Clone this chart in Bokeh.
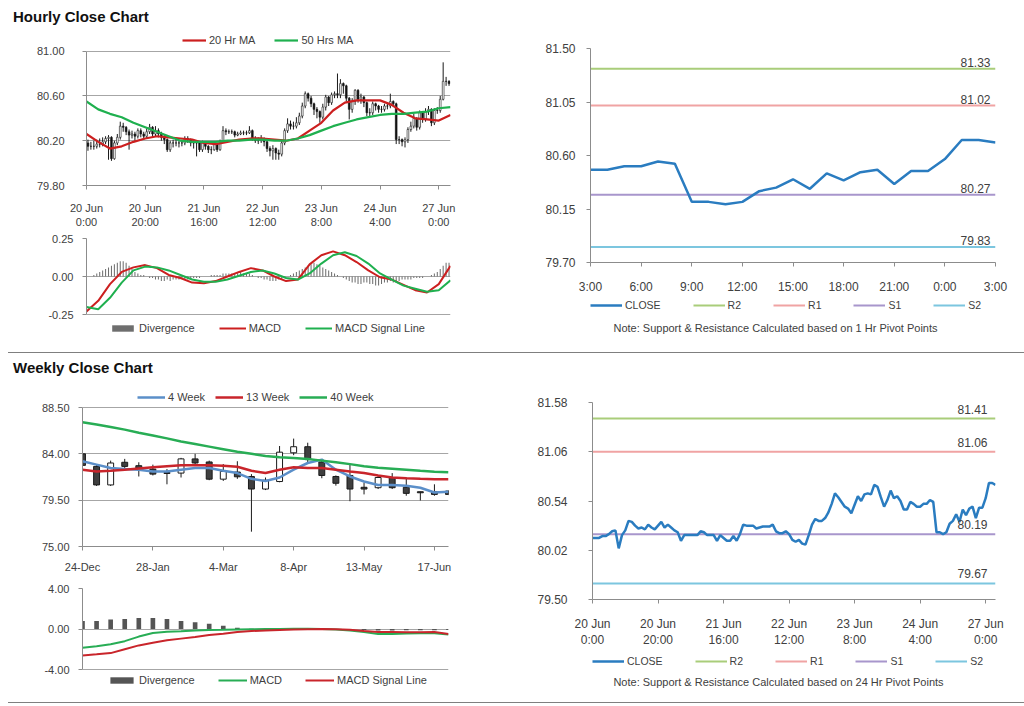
from bokeh.plotting import figure
from bokeh.models import (ColumnDataSource, FixedTicker, NumeralTickFormatter, Legend,
                          LegendItem, Label, Div, Range1d)
from bokeh.layouts import column, row
from bokeh.embed import file_html
from bokeh.resources import INLINE
from bokeh.core.properties import value

FONT = "Liberation Sans"
TXT = "#404040"
AXC = "#8c8c8c"
GRIDC = "#a6a6a6"

# ------------------------------------------------------------------ data: hourly
h_tick_labels = ["20 Jun\n0:00", "20 Jun\n20:00", "21 Jun\n16:00", "22 Jun\n12:00",
                 "23 Jun\n8:00", "24 Jun\n4:00", "27 Jun\n0:00"]
h_open = [80.18, 80.15, 80.15, 80.15, 80.17, 80.17, 80.19, 80.22, 80.23, 80.04,
          80.18, 80.23, 80.33, 80.32, 80.28, 80.25, 80.26, 80.24, 80.29, 80.26,
          80.24, 80.28, 80.32, 80.26, 80.29, 80.26, 80.23, 80.21, 80.12, 80.18,
          80.18, 80.18, 80.18, 80.18, 80.22, 80.21, 80.18, 80.18, 80.18, 80.12,
          80.18, 80.15, 80.12, 80.12, 80.17, 80.12, 80.19, 80.29, 80.28, 80.28,
          80.28, 80.25, 80.26, 80.27, 80.27, 80.27, 80.29, 80.22, 80.20, 80.20,
          80.22, 80.19, 80.13, 80.11, 80.13, 80.09, 80.08, 80.18, 80.29, 80.35,
          80.33, 80.33, 80.36, 80.42, 80.51, 80.62, 80.58, 80.53, 80.48, 80.46,
          80.41, 80.50, 80.59, 80.54, 80.61, 80.62, 80.61, 80.71, 80.69, 80.58,
          80.48, 80.55, 80.65, 80.57, 80.59, 80.54, 80.45, 80.45, 80.53, 80.51,
          80.48, 80.48, 80.51, 80.51, 80.55, 80.53, 80.21, 80.21, 80.19, 80.21,
          80.30, 80.33, 80.40, 80.32, 80.45, 80.39, 80.46, 80.48, 80.36, 80.47,
          80.47, 80.57, 80.73, 80.73]
h_high = [80.21, 80.19, 80.20, 80.21, 80.22, 80.23, 80.24, 80.25, 80.24, 80.20,
          80.26, 80.37, 80.36, 80.33, 80.30, 80.29, 80.28, 80.31, 80.31, 80.28,
          80.31, 80.35, 80.33, 80.33, 80.31, 80.28, 80.25, 80.22, 80.20, 80.21,
          80.22, 80.21, 80.20, 80.24, 80.24, 80.22, 80.21, 80.20, 80.19, 80.20,
          80.19, 80.16, 80.15, 80.19, 80.18, 80.21, 80.33, 80.31, 80.30, 80.30,
          80.29, 80.28, 80.29, 80.29, 80.29, 80.33, 80.30, 80.24, 80.23, 80.25,
          80.23, 80.20, 80.15, 80.16, 80.14, 80.12, 80.21, 80.31, 80.40, 80.38,
          80.37, 80.41, 80.45, 80.54, 80.64, 80.63, 80.60, 80.54, 80.50, 80.47,
          80.53, 80.61, 80.60, 80.63, 80.64, 80.80, 80.75, 80.72, 80.70, 80.59,
          80.58, 80.66, 80.66, 80.62, 80.60, 80.55, 80.49, 80.55, 80.54, 80.52,
          80.51, 80.53, 80.54, 80.62, 80.56, 80.54, 80.24, 80.22, 80.23, 80.32,
          80.37, 80.44, 80.41, 80.47, 80.46, 80.49, 80.51, 80.49, 80.49, 80.50,
          80.60, 80.90, 80.77, 80.74]
h_low = [80.11, 80.12, 80.12, 80.13, 80.14, 80.15, 80.17, 80.03, 80.02, 80.03,
         80.16, 80.21, 80.28, 80.25, 80.12, 80.22, 80.20, 80.22, 80.23, 80.21,
         80.22, 80.26, 80.23, 80.24, 80.23, 80.20, 80.17, 80.10, 80.10, 80.14,
         80.15, 80.14, 80.15, 80.16, 80.18, 80.15, 80.13, 80.06, 80.10, 80.10,
         80.12, 80.09, 80.08, 80.11, 80.10, 80.11, 80.18, 80.25, 80.26, 80.26,
         80.23, 80.24, 80.25, 80.25, 80.25, 80.26, 80.20, 80.18, 80.17, 80.18,
         80.15, 80.10, 80.06, 80.03, 80.03, 80.03, 80.06, 80.16, 80.27, 80.30,
         80.30, 80.31, 80.34, 80.40, 80.49, 80.55, 80.50, 80.43, 80.40, 80.36,
         80.39, 80.47, 80.51, 80.52, 80.58, 80.58, 80.58, 80.62, 80.55, 80.39,
         80.45, 80.52, 80.54, 80.53, 80.50, 80.42, 80.42, 80.43, 80.47, 80.45,
         80.45, 80.46, 80.48, 80.49, 80.50, 80.17, 80.17, 80.15, 80.14, 80.18,
         80.28, 80.31, 80.29, 80.30, 80.36, 80.37, 80.43, 80.33, 80.34, 80.44,
         80.45, 80.56, 80.69, 80.69]
h_close = [80.15, 80.15, 80.15, 80.17, 80.17, 80.19, 80.22, 80.23, 80.04, 80.18,
           80.23, 80.33, 80.32, 80.28, 80.25, 80.26, 80.24, 80.29, 80.26, 80.24,
           80.28, 80.32, 80.26, 80.29, 80.26, 80.23, 80.21, 80.12, 80.18, 80.18,
           80.18, 80.18, 80.18, 80.22, 80.21, 80.18, 80.18, 80.18, 80.12, 80.18,
           80.15, 80.12, 80.12, 80.17, 80.12, 80.19, 80.29, 80.28, 80.28, 80.28,
           80.25, 80.26, 80.27, 80.27, 80.27, 80.29, 80.22, 80.20, 80.20, 80.22,
           80.19, 80.13, 80.11, 80.13, 80.09, 80.08, 80.18, 80.29, 80.35, 80.33,
           80.33, 80.36, 80.42, 80.51, 80.62, 80.58, 80.53, 80.48, 80.46, 80.41,
           80.50, 80.59, 80.54, 80.61, 80.62, 80.61, 80.71, 80.69, 80.58, 80.48,
           80.55, 80.65, 80.57, 80.59, 80.54, 80.45, 80.45, 80.53, 80.51, 80.48,
           80.48, 80.51, 80.51, 80.55, 80.53, 80.21, 80.21, 80.19, 80.21, 80.30,
           80.33, 80.40, 80.32, 80.45, 80.39, 80.46, 80.48, 80.36, 80.47, 80.47,
           80.57, 80.73, 80.73, 80.71]
# moving averages / MACD read every 4 hourly bars
h_ma20 = [80.26, 80.19, 80.13, 80.15, 80.19, 80.22, 80.24, 80.23, 80.22, 80.21, 80.18,
          80.17, 80.19, 80.21, 80.22, 80.22, 80.21, 80.20, 80.22, 80.29, 80.36, 80.47,
          80.54, 80.56, 80.56, 80.56, 80.52, 80.45, 80.40, 80.39, 80.38, 80.43]
h_ma50 = [80.55, 80.48, 80.44, 80.41, 80.36, 80.32, 80.28, 80.24, 80.20, 80.19, 80.19,
          80.19, 80.20, 80.20, 80.21, 80.21, 80.20, 80.20, 80.22, 80.25, 80.29, 80.33,
          80.36, 80.39, 80.41, 80.43, 80.44, 80.44, 80.45, 80.46, 80.49, 80.50]
h_macd = [-0.23, -0.16, -0.05, 0.03, 0.06, 0.075, 0.055, 0.01, -0.01, -0.04, -0.045,
          -0.03, 0.00, 0.03, 0.055, 0.04, 0.00, -0.03, -0.02, 0.08, 0.14, 0.165,
          0.14, 0.095, 0.04, -0.005, -0.02, -0.055, -0.09, -0.105, -0.05, 0.07]
h_signal = [-0.20, -0.215, -0.14, -0.04, 0.04, 0.065, 0.06, 0.04, 0.01, -0.02, -0.035,
            -0.035, -0.02, 0.005, 0.03, 0.04, 0.02, -0.01, -0.02, 0.02, 0.085, 0.14,
            0.16, 0.135, 0.085, 0.02, -0.02, -0.06, -0.08, -0.10, -0.09, -0.025]
h_div = [0.00, 0.00, 0.01, 0.02, 0.03, 0.04, 0.05, 0.06, 0.07, 0.08,
         0.09, 0.10, 0.10, 0.09, 0.07, 0.05, 0.03, 0.02, 0.01, 0.01,
         0.00, -0.01, -0.01, -0.02, -0.02, -0.03, -0.03, -0.02, -0.03, -0.02,
         -0.02, -0.02, -0.01, -0.02, -0.02, -0.01, -0.01, -0.01, -0.01, 0.00,
         0.00, 0.00, 0.01, 0.01, 0.01, 0.01, 0.02, 0.02, 0.02, 0.02,
         0.02, 0.03, 0.03, 0.02, 0.02, 0.02, 0.01, 0.00, -0.01, -0.01,
         -0.02, -0.02, -0.03, -0.03, -0.03, -0.02, -0.02, -0.01, 0.00, 0.01,
         0.02, 0.03, 0.04, 0.05, 0.06, 0.07, 0.08, 0.09, 0.08, 0.07,
         0.06, 0.05, 0.04, 0.03, 0.02, 0.01, 0.00, -0.01, -0.02, -0.03,
         -0.04, -0.04, -0.05, -0.05, -0.04, -0.04, -0.05, -0.05, -0.06, -0.06,
         -0.05, -0.04, -0.04, -0.03, -0.04, -0.03, -0.03, -0.02, -0.02, -0.02,
         -0.02, -0.01, -0.01, -0.01, -0.01, 0.00, 0.00, 0.01, 0.02, 0.03,
         0.05, 0.07, 0.09, 0.09]
h_pivot_names = ["R2", "R1", "S1", "S2"]
h_pivots = [81.33, 81.02, 80.27, 79.83]
h_last_labels = ["3:00", "6:00", "9:00", "12:00", "15:00", "18:00", "21:00", "0:00", "3:00"]

# ------------------------------------------------------------------ data: weekly
w_tick_labels = ["24-Dec", "28-Jan", "4-Mar", "8-Apr", "13-May", "17-Jun"]
w_open = [84.00, 82.78, 80.98, 83.18, 82.85, 82.52, 82.19, 82.13, 83.51, 83.21,
          81.54, 82.23, 81.80, 80.58, 81.31, 84.10, 84.69, 83.21, 81.80, 81.90,
          80.75, 80.71, 81.70, 80.75, 80.32, 80.32, 80.39]
w_high = [84.10, 82.95, 83.34, 83.51, 83.18, 82.95, 82.52, 83.61, 84.00, 83.34,
          83.01, 83.28, 82.03, 81.70, 84.76, 85.48, 85.08, 83.44, 81.90, 82.95,
          81.21, 81.90, 82.13, 81.70, 80.32, 81.04, 80.48]
w_low = [82.78, 80.88, 80.88, 82.62, 81.80, 81.90, 81.04, 81.70, 83.01, 81.44,
         81.37, 81.57, 76.44, 80.48, 81.24, 83.87, 83.01, 81.63, 80.91, 79.40,
         80.06, 80.58, 80.58, 79.93, 79.47, 79.93, 79.99]
w_close = [82.88, 80.98, 83.11, 82.78, 82.62, 82.03, 82.09, 83.51, 83.11, 81.54,
           82.29, 81.77, 80.58, 81.44, 84.16, 84.69, 83.44, 81.90, 81.14, 80.58,
           80.58, 81.70, 80.71, 80.16, 80.22, 80.06, 80.06]
w_ma4 = [83.28, 82.95, 82.62, 82.52, 82.46, 82.29, 82.29, 82.46, 82.62, 82.62,
         82.36, 82.13, 81.57, 81.37, 81.70, 82.46, 83.11, 83.44, 82.46, 81.80,
         81.31, 80.98, 80.98, 80.91, 80.71, 80.25, 80.32]
w_ma13 = [82.46, 82.29, 82.35, 82.46, 82.58, 82.69, 82.80, 82.88, 82.90, 82.88,
          82.85, 82.75, 82.36, 82.13, 82.46, 82.69, 82.62, 82.62, 82.46, 82.29,
          82.13, 81.90, 81.70, 81.63, 81.57, 81.54, 81.54]
w_ma40 = [87.06, 86.85, 86.60, 86.35, 86.05, 85.78, 85.50, 85.20, 84.95, 84.70,
          84.45, 84.20, 84.00, 83.80, 83.67, 83.60, 83.50, 83.34, 83.18, 83.00,
          82.80, 82.65, 82.55, 82.45, 82.35, 82.27, 82.20]
w_macd = [-1.85, -1.70, -1.50, -1.20, -0.75, -0.40, -0.28, -0.22, -0.15, -0.10,
          -0.08, -0.05, -0.02, 0.00, 0.00, 0.02, 0.02, 0.00, -0.05, -0.15,
          -0.30, -0.50, -0.50, -0.45, -0.42, -0.42, -0.55]
w_signal = [-2.61, -2.50, -2.38, -2.00, -1.62, -1.35, -1.12, -0.95, -0.79, -0.60,
            -0.46, -0.30, -0.20, -0.15, -0.10, -0.05, -0.02, 0.00, -0.02, -0.08,
            -0.20, -0.30, -0.30, -0.32, -0.32, -0.30, -0.50]
w_div = [0.79, 0.79, 0.93, 0.99, 1.09, 1.09, 0.99, 0.79, 0.66, 0.53,
         0.33, 0.13, 0.03, 0.03, 0.02, 0.02, 0.02, 0.00, -0.05, -0.10,
         -0.12, -0.15, -0.15, -0.12, -0.12, -0.12, -0.10]
w_pivots = [81.41, 81.06, 80.19, 79.67]

PIVOT_COLORS = ["#a9cd7a", "#f0a3a3", "#a896cc", "#7cc6df"]
CLOSE_COLOR = "#2a7cc0"


# ------------------------------------------------------------------ helpers
def padded(lo, hi, data_px, top_px, bottom_px):
    """Range whose [lo, hi] part fills data_px pixels, leaving room for a legend."""
    u = (hi - lo) / data_px
    return (lo - bottom_px * u, hi + top_px * u)


def make_fig(w, h, bl, br, bt, bb, xr, yr, axes=True):
    kw = {} if axes else dict(x_axis_type=None, y_axis_type=None)
    p = figure(width=w, height=h, x_range=Range1d(*xr), y_range=Range1d(*yr),
               output_backend="svg", toolbar_location=None,
               min_border_left=bl, min_border_right=br,
               min_border_top=bt, min_border_bottom=bb, **kw)
    p.outline_line_color = None
    p.border_fill_color = "white"
    p.background_fill_color = "white"
    p.grid.grid_line_color = None
    for ax in p.axis:
        ax.axis_line_color = AXC
        ax.major_tick_line_color = AXC
        ax.minor_tick_line_color = None
        ax.major_tick_in = 0
        ax.major_tick_out = 4
        ax.major_label_text_font = FONT
        ax.major_label_text_color = TXT
    return p


def set_y(p, ticks, size, standoff, grid=True):
    p.yaxis.ticker = FixedTicker(ticks=ticks)
    p.ygrid.ticker = FixedTicker(ticks=ticks)
    p.yaxis.formatter = NumeralTickFormatter(format="0.00")
    p.yaxis.major_label_text_font_size = size
    p.yaxis.major_label_standoff = standoff
    p.yaxis.bounds = (ticks[0], ticks[-1])
    if grid:
        p.ygrid.grid_line_color = GRIDC


def set_x(p, ticks, labels, size, standoff):
    p.xaxis.ticker = FixedTicker(ticks=ticks)
    p.xaxis.major_label_overrides = {t: l for t, l in zip(ticks, labels)}
    p.xaxis.major_label_text_font_size = size
    p.xaxis.major_label_standoff = standoff


def add_legend(p, items, loc, spacing, size="11px", glyph_w=27, label_w=20):
    lg = Legend(items=items, location=loc, orientation="horizontal", spacing=spacing,
                padding=0, margin=0, border_line_color=None, background_fill_alpha=0,
                inactive_fill_alpha=0,
                label_text_font=FONT, label_text_font_size=size, label_text_color=TXT,
                glyph_width=glyph_w, glyph_height=8, label_height=12, label_width=label_w,
                label_standoff=3)
    p.add_layout(lg)


def candles(p, xs, o, h, l, c, width, down_color, line_w):
    src = ColumnDataSource(dict(
        x=xs, h=h, l=l,
        top=[max(a, b) for a, b in zip(o, c)],
        bottom=[min(a, b) for a, b in zip(o, c)],
        fill=[down_color if b < a else "white" for a, b in zip(o, c)]))
    p.segment(x0="x", y0="l", x1="x", y1="h", source=src, line_color="#1a1a1a", line_width=1)
    p.vbar(x="x", width=width, top="top", bottom="bottom", fill_color="fill",
           line_color="#1a1a1a", line_width=line_w, source=src)


def title_div(text):
    return Div(text=f'<div style="padding-left:5px">{text}</div>', width=1008, height=22, margin=0,
               styles={"font-family": "'Liberation Sans', Arial, sans-serif", "font-size": "15px",
                       "font-weight": "bold", "color": "#111111", "line-height": "18px"})


def sep_div(h, at):
    grad = (f"linear-gradient(to bottom, transparent {at}px, #7f7f7f {at}px, "
            f"#7f7f7f {at + 1}px, transparent {at + 1}px)")
    return Div(text="", width=1016, height=h, margin=0, styles={"background": grad})


def pivot_chart(w, h, bl, br, bt, bb, closes, pivots, yr, yticks, xticks, xlabels,
                ystand, xstand, lab_dx, lab_dy):
    n = len(closes)
    xs = list(range(n))
    p = make_fig(w, h, bl, br, bt, bb, (0, n - 1), yr)
    set_y(p, yticks, "12px", ystand, grid=False)
    set_x(p, xticks, xlabels, "12px", xstand)
    for v, col in zip(pivots, PIVOT_COLORS):
        p.line(x=[xs[0], xs[-1]], y=[v, v], line_color=col, line_width=2)
    p.line(x=xs, y=closes, line_color=CLOSE_COLOR, line_width=2.5)
    p.text(x=[xs[-1]] * len(pivots), y=pivots, text=[f"{v:.2f}" for v in pivots],
           text_align="right", text_baseline="bottom", x_offset=lab_dx, y_offset=lab_dy,
           text_font=value(FONT), text_font_size="12px", text_color=TXT)
    return p


def pivot_key(w, h, bl, br, closes, pivots, leg_loc, note, note_xy):
    """Key strip under a pivot chart: legend of the five lines and the note.
    Its renderers hold the chart's own series but are hidden; only the key shows."""
    n = len(closes)
    xs = list(range(n))
    k = make_fig(w, h, bl, br, 0, 0, (0, n - 1), (0, 1), axes=False)
    rc = k.line(x=xs, y=closes, line_color=CLOSE_COLOR, line_width=2.5, visible=False)
    rs = [k.line(x=[xs[0], xs[-1]], y=[v, v], line_color=c, line_width=2, visible=False)
          for v, c in zip(pivots, PIVOT_COLORS)]
    items = [LegendItem(label="CLOSE", renderers=[rc])] + \
            [LegendItem(label=nm, renderers=[r]) for nm, r in zip(h_pivot_names, rs)]
    add_legend(k, items, leg_loc, 32, size="10.5px", glyph_w=32, label_w=0)
    k.add_layout(Label(x=note_xy[0], y=note_xy[1], x_units="screen", y_units="screen",
                       text=note, text_align="center", text_baseline="middle",
                       text_font=FONT, text_font_size="11px", text_color=TXT))
    return k


# ------------------------------------------------------------------ hourly candle
n_h = len(h_close)
h_x = [i + 0.5 for i in range(n_h)]
h_tick_pos = [0, 20, 40, 60, 80, 100, 120]
h_ma_x = list(range(0, 125, 4))
h_yt = [79.8, 80.2, 80.6, 81.0]

p1 = make_fig(520, 200, 78, 78, 2, 42, (0, n_h), padded(h_yt[0], h_yt[-1], 137, 19, 0))
set_y(p1, h_yt, "11px", 18)
set_x(p1, h_tick_pos, h_tick_labels, "11px", 12)
candles(p1, h_x, h_open, h_high, h_low, h_close, 0.6, "#111111", 0.6)
r20 = p1.line(h_ma_x, h_ma20, line_color="#cc1f1f", line_width=2.2)
r50 = p1.line(h_ma_x, h_ma50, line_color="#1fb04f", line_width=2.2)
add_legend(p1, [LegendItem(label="20 Hr MA", renderers=[r20]),
                LegendItem(label="50 Hrs MA", renderers=[r50])], (96, 139), 19, glyph_w=24)

# ------------------------------------------------------------------ hourly MACD
h_mt = [-0.25, 0.0, 0.25]
p2 = make_fig(520, 115, 78, 78, 8, 8, (0, n_h), padded(h_mt[0], h_mt[-1], 76, 0, 23))
set_y(p2, h_mt, "11px", 9)
p2.xaxis.visible = False
rdl = p2.vbar(x=h_x, top=h_div, bottom=0, width=0.35, fill_color="#6e6e6e", line_color=None)
rm = p2.line(h_ma_x, h_macd, line_color="#cc1f1f", line_width=2)
rs_ = p2.line(h_ma_x, h_signal, line_color="#1fb04f", line_width=2)
add_legend(p2, [LegendItem(label="Divergence", renderers=[rdl]),
                LegendItem(label="MACD", renderers=[rm]),
                LegendItem(label="MACD Signal Line", renderers=[rs_])], (23, 3), 24)

# ------------------------------------------------------------------ hourly pivots (last 25 h)
h_last = h_close[-25:]
p3 = pivot_chart(488, 266, 62, 21, 18, 32, h_last, h_pivots, (79.7, 81.5),
                 [79.70, 80.15, 80.60, 81.05, 81.50], list(range(0, 25, 3)), h_last_labels,
                 11, 13, -5, -2)
k3 = pivot_key(488, 49, 62, 21, h_last, h_pivots, (0, 34),
               "Note: Support & Resistance Calculated based on 1 Hr Pivot Points", (185, 18))

# ------------------------------------------------------------------ weekly candle
n_w = len(w_close)
w_x = list(range(n_w))
w_yt = [75.0, 79.5, 84.0, 88.5]
p4 = make_fig(520, 194, 74, 80, 2, 29, (0, n_w - 1), padded(w_yt[0], w_yt[-1], 139, 24, 0))
set_y(p4, w_yt, "11px", 9)
set_x(p4, [0, 5, 10, 15, 20, 25], w_tick_labels, "11px", 10)
candles(p4, w_x, w_open, w_high, w_low, w_close, 0.42, "#3f3f3f", 1)
r4 = p4.line(w_x, w_ma4, line_color="#5b8fc9", line_width=2.5)
r13 = p4.line(w_x, w_ma13, line_color="#c9252b", line_width=2.5)
r40 = p4.line(w_x, w_ma40, line_color="#28ad55", line_width=2.5)
add_legend(p4, [LegendItem(label="4 Week", renderers=[r4]),
                LegendItem(label="13 Week", renderers=[r13]),
                LegendItem(label="40 Week", renderers=[r40])], (55, 143), 10, glyph_w=28)

# ------------------------------------------------------------------ weekly MACD
w_mt = [-4.0, 0.0, 4.0]
p5 = make_fig(520, 120, 74, 80, 13, 4, (0, n_w - 1), padded(w_mt[0], w_mt[-1], 81, 0, 22))
set_y(p5, w_mt, "11px", 9)
p5.xaxis.visible = False
rdl2 = p5.vbar(x=w_x, top=w_div, bottom=0, width=0.33, fill_color="#555555", line_color=None)
rm2 = p5.line(w_x, w_macd, line_color="#28ad55", line_width=2)
rs2 = p5.line(w_x, w_signal, line_color="#c9252b", line_width=2)
add_legend(p5, [LegendItem(label="Divergence", renderers=[rdl2]),
                LegendItem(label="MACD", renderers=[rm2]),
                LegendItem(label="MACD Signal Line", renderers=[rs2])], (25, 5), 23, glyph_w=29)

# ------------------------------------------------------------------ hourly pivots (full week)
p6 = pivot_chart(488, 269, 64, 21, 21, 49, h_close, w_pivots, (79.5, 81.58),
                 [79.50, 80.02, 80.54, 81.06, 81.58], h_tick_pos, h_tick_labels,
                 21, 13, -8, -5)
k6 = pivot_key(488, 45, 64, 21, h_close, w_pivots, (0, 28),
               "Note: Support & Resistance Calculated based on 24 Hr Pivot Points", (186, 14))

layout = column(
    title_div("Hourly Close Chart"),
    row(column(p1, p2, spacing=0), column(p3, k3, spacing=0), spacing=0),
    sep_div(14, 7),
    title_div("Weekly Close Chart"),
    row(column(p4, p5, spacing=0), column(p6, k6, spacing=0), spacing=0),
    sep_div(9, 7),
    spacing=0,
    margin=(8, 0, 0, 8),
)

open("out.html", "w").write(file_html(layout, INLINE))
